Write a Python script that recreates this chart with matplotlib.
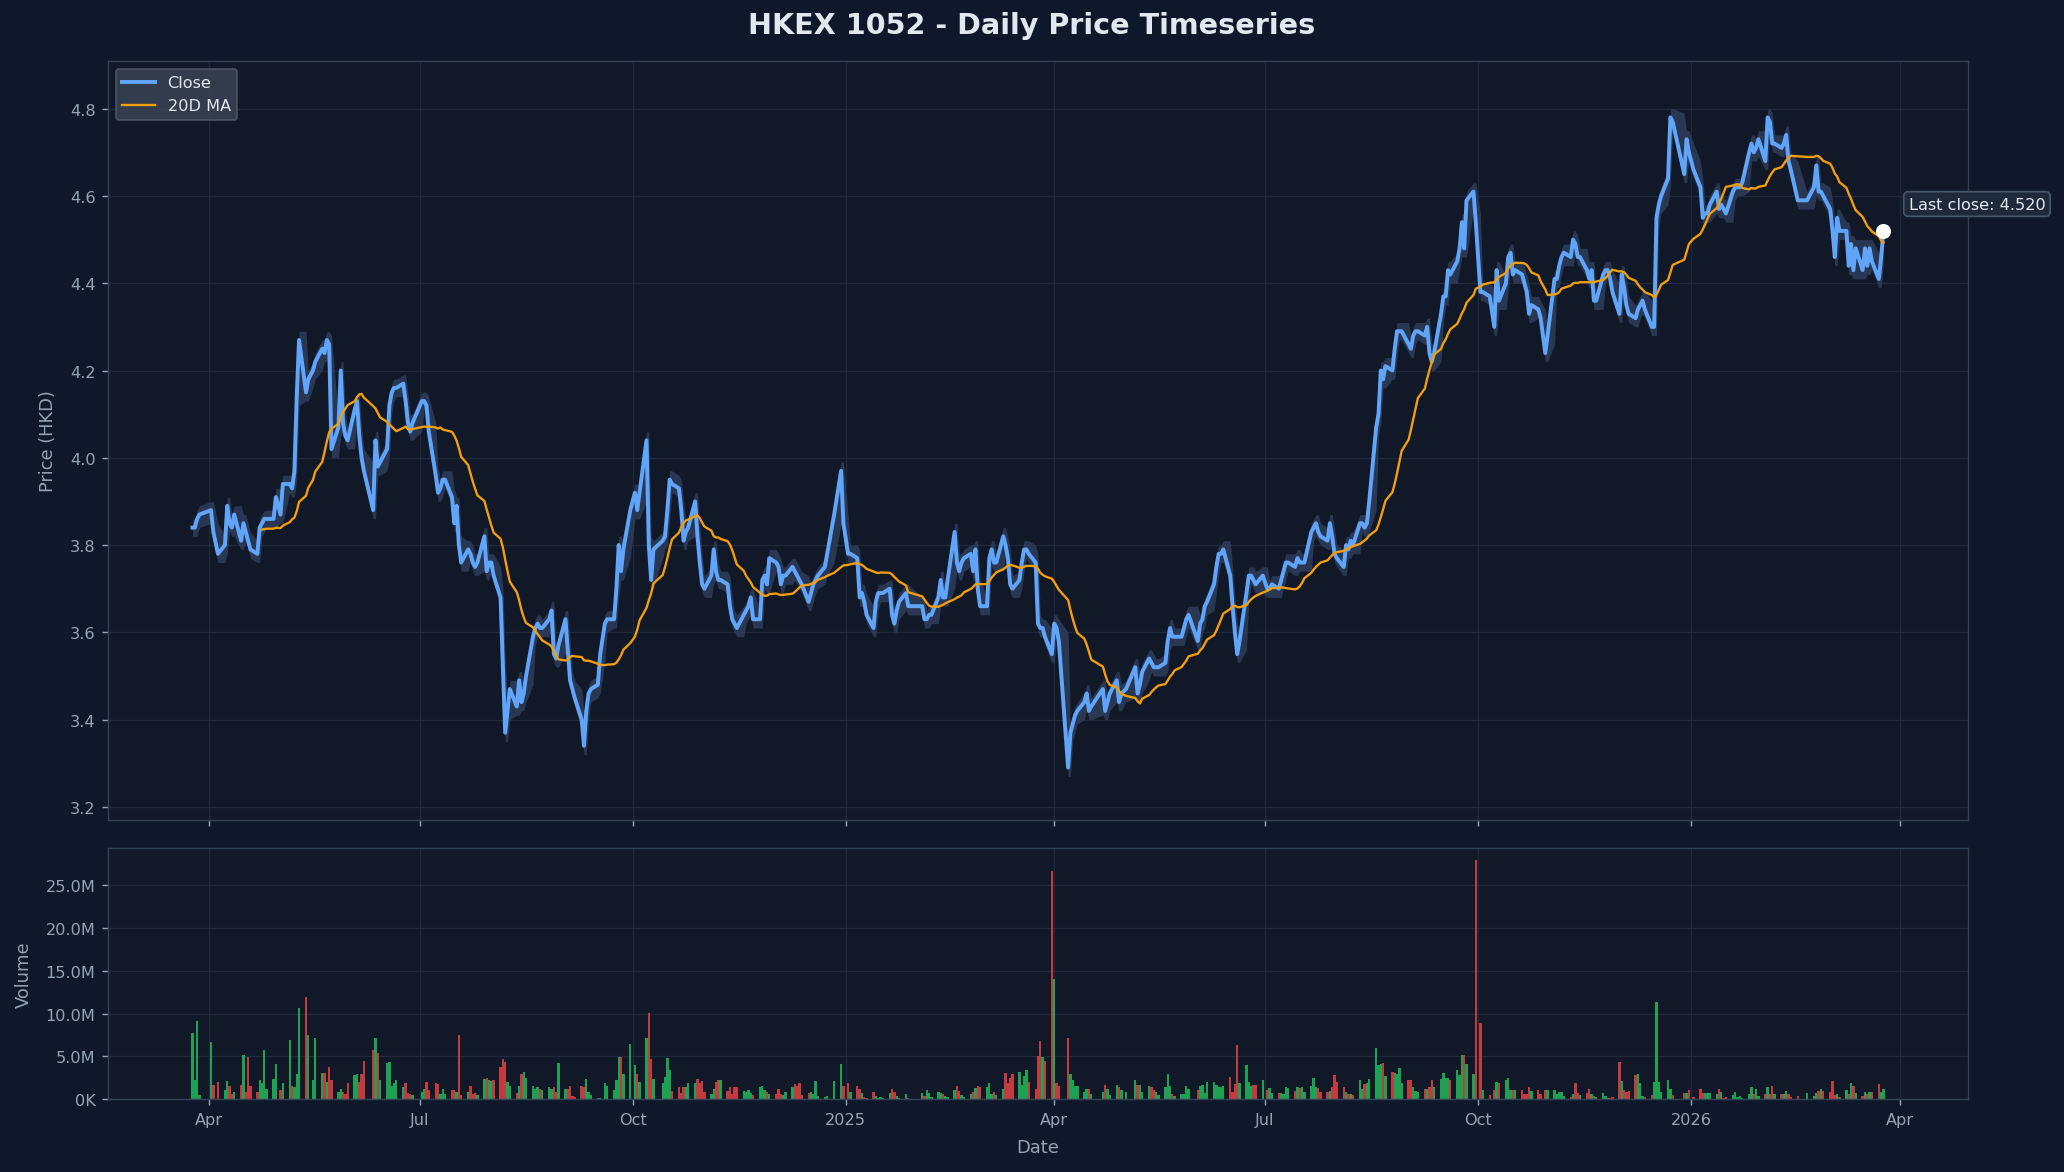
import numpy as np
import pandas as pd
import matplotlib
matplotlib.use("Agg")
import matplotlib.pyplot as plt
import matplotlib.dates as mdates
from matplotlib.ticker import FuncFormatter

TITLE = "HKEX 1052 - Daily Price Timeseries"
START_DATE = "2024-03-25"

# HKEX market holidays inside the plotted window (no trading rows on these days)
HK_HOLIDAYS = [
    "2024-03-29", "2024-04-01", "2024-04-04", "2024-05-01", "2024-05-15",
    "2024-06-10", "2024-07-01", "2024-09-18", "2024-10-01", "2024-10-11",
    "2024-12-25", "2024-12-26",
    "2025-01-01", "2025-01-29", "2025-01-30", "2025-01-31", "2025-04-04",
    "2025-04-18", "2025-04-21", "2025-05-01", "2025-05-05", "2025-05-30",
    "2025-07-01", "2025-10-01", "2025-10-07", "2025-10-29", "2025-12-25",
    "2025-12-26",
    "2026-01-01", "2026-02-17", "2026-02-18", "2026-02-19",
]

# ==========================================
# 1. DAILY CLOSE (HKD), one row per month
# ==========================================
close_2024_h1 = [
    3.84, 3.84, 3.86, 3.87,
    3.88, 3.83, 3.78, 3.80, 3.89, 3.85, 3.84, 3.87, 3.81, 3.85, 3.83, 3.81, 3.79, 3.78, 3.84, 3.85, 3.86, 3.86, 3.86, 3.91,
    3.87, 3.94, 3.94, 3.93, 3.97, 4.14, 4.27, 4.15, 4.18, 4.20, 4.22, 4.25, 4.24, 4.27, 4.26, 4.02, 4.07, 4.20, 4.08, 4.05, 4.04,
    4.11, 4.13, 4.05, 4.00, 3.97, 3.88, 4.04, 3.98, 3.99, 4.02, 4.12, 4.15, 4.16, 4.16, 4.17, 4.13, 4.08, 4.06, 4.08,
]
close_2024_h2 = [
    4.13, 4.13, 4.12, 4.06, 3.96, 3.92, 3.93, 3.95, 3.95, 3.91, 3.85, 3.89, 3.80, 3.76, 3.79, 3.78, 3.76, 3.75, 3.76, 3.82, 3.74, 3.76,
    3.76, 3.73, 3.68, 3.52, 3.37, 3.42, 3.47, 3.43, 3.49, 3.44, 3.46, 3.50, 3.59, 3.61, 3.62, 3.61, 3.61, 3.63, 3.65, 3.55, 3.54, 3.57,
    3.63, 3.56, 3.49, 3.47, 3.45, 3.40, 3.34, 3.42, 3.46, 3.47, 3.48, 3.55, 3.62, 3.63, 3.63, 3.70, 3.80, 3.74, 3.79, 3.88,
    3.92, 3.88, 3.92, 4.04, 3.80, 3.72, 3.79, 3.81, 3.82, 3.88, 3.95, 3.94, 3.93, 3.88, 3.81, 3.83, 3.84, 3.90, 3.82, 3.76, 3.71,
    3.70, 3.73, 3.79, 3.74, 3.72, 3.72, 3.71, 3.66, 3.63, 3.62, 3.61, 3.64, 3.65, 3.66, 3.68, 3.63, 3.63, 3.72, 3.73, 3.71, 3.77,
    3.76, 3.75, 3.71, 3.73, 3.73, 3.75, 3.74, 3.73, 3.72, 3.71, 3.67, 3.69, 3.71, 3.72, 3.73, 3.75, 3.78, 3.87, 3.97, 3.85,
]
close_2025_h1 = [
    3.78, 3.78, 3.77, 3.68, 3.69, 3.67, 3.64, 3.61, 3.67, 3.69, 3.69, 3.69, 3.70, 3.64, 3.62, 3.65, 3.67, 3.69, 3.66,
    3.66, 3.63, 3.63, 3.64, 3.64, 3.68, 3.72, 3.68, 3.68, 3.72, 3.83, 3.76, 3.74, 3.76, 3.77, 3.78, 3.74, 3.79, 3.70, 3.66,
    3.66, 3.77, 3.79, 3.76, 3.76, 3.82, 3.80, 3.77, 3.71, 3.70, 3.72, 3.76, 3.79, 3.79, 3.78, 3.76, 3.62, 3.61, 3.61, 3.59, 3.55,
    3.62, 3.61, 3.58, 3.29, 3.37, 3.39, 3.41, 3.42, 3.44, 3.46, 3.42, 3.43, 3.47, 3.42, 3.44, 3.46, 3.49, 3.44, 3.46,
    3.47, 3.52, 3.46, 3.48, 3.51, 3.54, 3.53, 3.52, 3.52, 3.52, 3.53, 3.58, 3.61, 3.59, 3.59, 3.59, 3.61, 3.63, 3.64,
    3.58, 3.62, 3.63, 3.66, 3.67, 3.71, 3.75, 3.78, 3.78, 3.79, 3.73, 3.66, 3.60, 3.55, 3.58, 3.69, 3.73, 3.73, 3.72, 3.71, 3.73,
]
close_2025_h2 = [
    3.70, 3.70, 3.71, 3.70, 3.72, 3.74, 3.76, 3.76, 3.75, 3.77, 3.76, 3.76, 3.76, 3.83, 3.84, 3.85, 3.83, 3.82, 3.81, 3.85, 3.82, 3.78,
    3.77, 3.75, 3.80, 3.79, 3.81, 3.80, 3.85, 3.85, 3.84, 3.85, 3.90, 4.07, 4.10, 4.20, 4.18, 4.21, 4.20, 4.25, 4.29, 4.29, 4.29,
    4.26, 4.25, 4.28, 4.29, 4.29, 4.28, 4.30, 4.24, 4.22, 4.24, 4.33, 4.37, 4.37, 4.43, 4.42, 4.45, 4.48, 4.54, 4.48, 4.59, 4.61, 4.54,
    4.38, 4.38, 4.37, 4.30, 4.43, 4.36, 4.40, 4.46, 4.47, 4.42, 4.43, 4.42, 4.40, 4.38, 4.33, 4.35, 4.34, 4.32, 4.24, 4.28,
    4.41, 4.41, 4.44, 4.46, 4.47, 4.46, 4.50, 4.49, 4.46, 4.46, 4.43, 4.41, 4.43, 4.36, 4.36, 4.42, 4.43, 4.43, 4.41, 4.38,
    4.33, 4.42, 4.39, 4.35, 4.33, 4.32, 4.34, 4.35, 4.36, 4.34, 4.30, 4.30, 4.55, 4.58, 4.60, 4.64, 4.78, 4.77, 4.65, 4.73, 4.70,
]
close_2026_q1 = [
    4.66, 4.62, 4.55, 4.56, 4.56, 4.58, 4.61, 4.57, 4.58, 4.57, 4.56, 4.61, 4.62, 4.62, 4.62, 4.63, 4.70, 4.72, 4.70, 4.71, 4.73,
    4.68, 4.78, 4.77, 4.72, 4.72, 4.71, 4.72, 4.74, 4.68, 4.66, 4.59, 4.59, 4.62, 4.67, 4.61, 4.61, 4.60,
    4.57, 4.52, 4.46, 4.55, 4.52, 4.52, 4.44, 4.49, 4.43, 4.48, 4.43, 4.48, 4.44, 4.48, 4.45, 4.41, 4.46, 4.52,
]

# ==========================================
# 2. DAILY VOLUME (millions of shares), same rows
# ==========================================
vol_2024_h1 = [
    7.7, 2.3, 9.1, 0.5,
    6.7, 1.7, 2.0, 1.1, 2.1, 1.5, 0.6, 0.9, 1.7, 5.2, 0.8, 4.9, 1.6, 0.9, 2.3, 1.9, 5.8, 1.2, 2.4, 4.1,
    1.1, 1.9, 6.9, 1.6, 1.4, 2.9, 10.7, 12.0, 7.5, 2.3, 7.1, 3.1, 3.1, 2.0, 3.8, 2.3, 0.9, 1.2, 0.8, 0.6, 1.9,
    2.8, 3.0, 2.0, 2.9, 4.5, 5.7, 7.1, 5.4, 2.2, 4.2, 4.3, 1.6, 1.9, 2.3, 1.4, 1.9, 0.7, 0.6, 0.5,
]
vol_2024_h2 = [
    0.9, 1.2, 2.0, 1.1, 1.9, 1.8, 0.6, 1.2, 0.6, 1.1, 1.1, 0.8, 7.5, 0.5, 0.9, 1.6, 0.6, 0.7, 0.5, 2.4, 2.5, 2.2,
    2.1, 2.3, 3.8, 4.7, 4.4, 2.0, 1.5, 0.7, 1.6, 2.9, 3.2, 2.5, 1.6, 1.2, 1.4, 1.2, 1.1, 1.4, 1.2, 1.4, 0.8, 4.2,
    1.2, 1.2, 1.6, 0.4, 0.3, 1.5, 1.4, 2.4, 0.9, 0.5, 0.2, 0.2, 1.9, 1.5, 1.1, 2.2, 4.9, 4.9, 3.0, 6.5,
    4.0, 2.9, 2.0, 7.1, 10.1, 4.7, 2.4, 1.9, 2.6, 4.8, 3.4, 1.0, 1.4, 0.7, 1.4, 1.4, 1.9, 1.9, 2.4, 1.9, 2.1,
    0.8, 0.6, 1.2, 2.0, 2.3, 2.3, 1.0, 1.4, 0.6, 1.4, 1.4, 1.0, 0.8, 1.1, 0.7, 0.5, 1.4, 1.5, 1.1, 0.9, 0.6,
    0.6, 1.2, 0.6, 0.5, 0.8, 1.4, 1.8, 1.6, 1.9, 0.5, 0.7, 0.9, 0.6, 2.1, 0.4, 0.3, 0.4, 2.1, 4.1, 1.6,
]
vol_2025_h1 = [
    1.9, 0.9, 1.6, 1.2, 0.7, 0.3, 0.2, 0.9, 0.4, 0.2, 0.3, 0.2, 0.7, 1.2, 0.8, 0.4, 0.2, 0.6, 0.2,
    0.7, 0.4, 1.1, 0.7, 0.3, 0.8, 0.7, 0.6, 0.4, 0.3, 1.1, 1.5, 1.0, 0.5, 0.3, 0.6, 0.8, 1.3, 1.6, 1.4,
    1.4, 1.9, 0.6, 0.9, 0.5, 1.2, 3.1, 1.9, 2.5, 2.9, 3.2, 1.7, 2.7, 3.4, 2.0, 1.2, 5.1, 6.8, 4.9, 4.5, 26.7,
    14.0, 1.9, 1.6, 7.1, 3.0, 2.3, 1.6, 1.6, 0.9, 1.2, 1.2, 0.6, 0.9, 1.7, 1.2, 0.5, 1.7, 1.4, 1.1,
    0.8, 2.3, 1.7, 1.7, 0.9, 1.6, 1.4, 1.1, 0.8, 0.5, 1.4, 3.0, 1.6, 0.6, 0.4, 0.6, 0.6, 1.6, 1.2,
    1.1, 1.6, 1.7, 0.7, 2.0, 2.0, 1.7, 1.4, 1.4, 1.6, 2.6, 0.8, 1.8, 6.3, 1.9, 4.0, 2.0, 1.6, 1.7, 1.7, 2.2,
]
vol_2025_h2 = [
    1.1, 1.3, 0.7, 0.7, 0.7, 0.6, 1.4, 1.3, 1.0, 1.4, 1.3, 1.4, 0.9, 1.6, 2.5, 1.4, 1.3, 0.9, 0.9, 1.0, 1.4, 2.8,
    2.0, 1.4, 0.9, 0.6, 0.6, 0.5, 2.3, 1.2, 1.8, 1.9, 2.4, 6.0, 4.0, 4.1, 4.2, 2.7, 3.2, 3.1, 2.9, 3.7, 1.9,
    2.2, 2.2, 1.4, 1.0, 0.8, 1.2, 1.2, 1.4, 2.3, 1.4, 2.4, 3.1, 2.5, 2.5, 2.2, 3.4, 2.8, 5.2, 5.2, 4.1, 3.0, 28.0,
    8.9, 1.1, 0.5, 1.1, 2.0, 1.9, 2.2, 2.5, 1.1, 1.1, 1.1, 1.1, 0.6, 0.6, 1.4, 1.0, 1.1, 0.6, 1.1, 1.1,
    1.1, 0.6, 0.9, 0.8, 0.4, 0.3, 0.6, 1.9, 0.7, 0.5, 0.7, 1.2, 0.6, 0.4, 0.3, 0.7, 0.4, 0.2, 0.2, 0.3,
    4.3, 2.1, 1.1, 0.9, 1.0, 2.8, 3.0, 1.9, 0.4, 0.3, 0.5, 2.0, 11.4, 2.0, 0.9, 2.2, 1.2, 0.5, 0.7, 0.7, 1.1,
]
vol_2026_q1 = [
    0.3, 1.2, 0.7, 0.7, 0.7, 0.7, 0.6, 1.2, 0.9, 0.2, 0.3, 0.5, 0.9, 0.3, 0.4, 0.2, 0.6, 1.4, 0.6, 1.2, 0.4,
    0.6, 1.4, 0.6, 1.6, 0.6, 0.6, 0.6, 1.0, 0.6, 0.3, 0.4, 0.7, 0.4, 0.7, 1.0, 1.2, 1.0,
    0.8, 2.1, 0.5, 0.6, 0.3, 1.1, 0.6, 1.9, 1.6, 0.7, 0.4, 0.9, 0.6, 0.9, 0.8, 1.8, 0.8, 1.2,
]

close = np.array(close_2024_h1 + close_2024_h2 + close_2025_h1 + close_2025_h2 + close_2026_q1)
volume = np.array(vol_2024_h1 + vol_2024_h2 + vol_2025_h1 + vol_2025_h2 + vol_2026_q1) * 1e6
assert len(close) == len(volume)

dates = pd.bdate_range(START_DATE, periods=len(close), freq="C", holidays=HK_HOLIDAYS)
ma20 = pd.Series(close).rolling(20).mean().to_numpy()

# shaded day-move envelope (prev close -> close) around the line
prev_close = np.r_[close[0], close[:-1]]
band_lo = np.minimum(close, prev_close) - 0.02
band_hi = np.maximum(close, prev_close) + 0.02
up_day = close >= prev_close

# ==========================================
# 3. STYLE
# ==========================================
FIG_BG = "#0f172a"
AX_BG = "#111827"
GRID = "#1e293b"
SPINE = "#334155"
MUTED = "#94a3b8"
TEXT = "#e2e8f0"

fig = plt.figure(figsize=(16, 9.093), dpi=129, facecolor=FIG_BG)
ax_p = fig.add_axes([0.0523, 0.3001, 0.9012, 0.6473])
ax_v = fig.add_axes([0.0523, 0.0620, 0.9012, 0.2146], sharex=ax_p)

for ax in (ax_p, ax_v):
    ax.set_facecolor(AX_BG)
    for sp in ax.spines.values():
        sp.set_color(SPINE)
    ax.tick_params(colors=MUTED, labelsize=9)
    ax.grid(True, color=GRID, linewidth=0.8)
    ax.set_axisbelow(True)

# price panel
ax_p.fill_between(dates, band_lo, band_hi, color="#2c3b57", alpha=0.9, linewidth=0)
ax_p.plot(dates, close, color="#60a5fa", linewidth=2.2, label="Close", zorder=3)
ax_p.plot(dates, ma20, color="#f59e0b", linewidth=1.3, label="20D MA", zorder=4)
ax_p.scatter([dates[-1]], [close[-1]], s=55, color="white", zorder=6)
ax_p.annotate(f"Last close: {close[-1]:.3f}", xy=(dates[-1], close[-1]),
              xytext=(14, 15), textcoords="offset points", va="center", ha="left",
              fontsize=9, color=TEXT,
              bbox=dict(boxstyle="round,pad=0.3", fc="#1e293b", ec="#475569"))
ax_p.set_ylim(3.17, 4.91)
ax_p.set_ylabel("Price (HKD)", color=MUTED, fontsize=10, labelpad=7)
ax_p.legend(loc="upper left", fontsize=9, facecolor="#374151", edgecolor="#4b5563",
            framealpha=0.9, labelcolor=TEXT)
ax_p.tick_params(axis="x", labelbottom=False)

# volume panel
bar_colors = np.where(up_day, "#22c55e", "#ef4444")
ax_v.bar(dates, volume, width=1.0, color=bar_colors, alpha=0.8, linewidth=0)
ax_v.yaxis.set_major_formatter(FuncFormatter(
    lambda v, _: f"{v / 1e6:.1f}M" if v >= 1e6 else f"{v / 1e3:.0f}K"))
ax_v.set_ylabel("Volume", color=MUTED, fontsize=10, labelpad=7)
ax_v.set_xlabel("Date", color=MUTED, fontsize=10, labelpad=6)

pad = pd.Timedelta(days=36.5)
ax_v.set_xlim(dates[0] - pad, dates[-1] + pad)
ax_v.xaxis.set_major_locator(mdates.MonthLocator(bymonth=[1, 4, 7, 10]))
ax_v.xaxis.set_major_formatter(FuncFormatter(
    lambda x, _: mdates.num2date(x).strftime("%Y") if mdates.num2date(x).month == 1
    else mdates.num2date(x).strftime("%b")))

fig.text(0.5, 1 - 26.5 / 1173, TITLE, ha="center", va="center",
         fontsize=16, fontweight="bold", color=TEXT)

fig.savefig("out.png", dpi=129, facecolor=FIG_BG)
